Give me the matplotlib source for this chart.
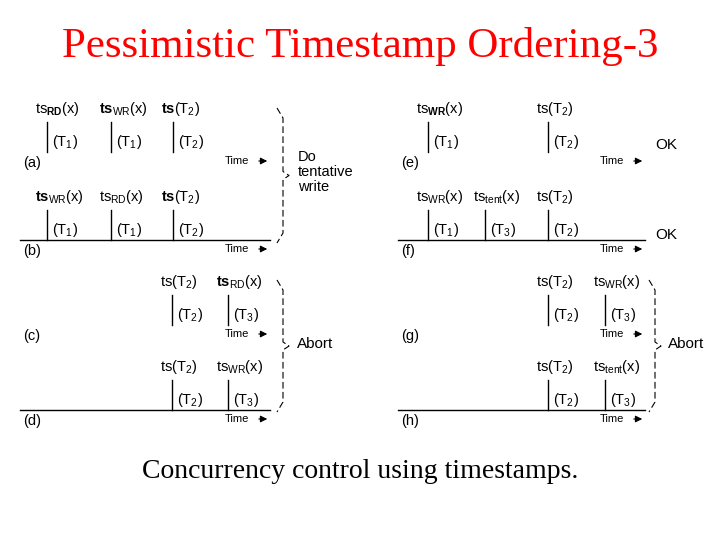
import matplotlib.pyplot as plt

# text content of the diagram
title = 'Pessimistic Timestamp Ordering-3'
caption = 'Concurrency control using timestamps.'

panel_names = ['(a)', '(b)', '(c)', '(d)', '(e)', '(f)', '(g)', '(h)']
top_labels = [
    [r'ts$_{\mathbf{RD}}$(x)', r'$\mathbf{ts}_{\mathrm{WR}}$(x)', r'$\mathbf{ts}$(T$_2$)'],
    [r'$\mathbf{ts}_{\mathrm{WR}}$(x)', r'ts$_{\mathrm{RD}}$(x)', r'$\mathbf{ts}$(T$_2$)'],
    [r'ts(T$_2$)', r'$\mathbf{ts}_{\mathrm{RD}}$(x)'],
    [r'ts(T$_2$)', r'ts$_{\mathrm{WR}}$(x)'],
    [r'ts$_{\mathbf{WR}}$(x)', r'ts(T$_2$)'],
    [r'ts$_{\mathrm{WR}}$(x)', r'ts$_{\mathrm{tent}}$(x)', r'ts(T$_2$)'],
    [r'ts(T$_2$)', r'ts$_{\mathrm{WR}}$(x)'],
    [r'ts(T$_2$)', r'ts$_{\mathrm{tent}}$(x)'],
]
owner_labels = [
    ['(T$_1$)', '(T$_1$)', '(T$_2$)'],
    ['(T$_1$)', '(T$_1$)', '(T$_2$)'],
    ['(T$_2$)', '(T$_3$)'],
    ['(T$_2$)', '(T$_3$)'],
    ['(T$_1$)', '(T$_2$)'],
    ['(T$_1$)', '(T$_3$)', '(T$_2$)'],
    ['(T$_2$)', '(T$_3$)'],
    ['(T$_2$)', '(T$_3$)'],
]
outcomes = ['Do\ntentative\nwrite', 'OK\n\n\n\n\nOK', 'Abort', 'Abort']

# layout (pixel coordinates)
tick_x = [[47, 111, 173], [47, 111, 173], [172, 228], [172, 228],
          [428, 548], [428, 485, 548], [548, 605], [548, 605]]
base_y = [152, 240, 325, 410, 152, 240, 325, 410]
draw_base = [False, True, False, True, False, True, False, True]
x_left = [20, 20, 20, 20, 398, 398, 398, 398]
x_right = [270, 270, 270, 270, 645, 645, 645, 645]

plt.rcParams['font.family'] = ['Liberation Sans', 'DejaVu Sans']
plt.rcParams['mathtext.fontset'] = 'custom'
plt.rcParams['mathtext.rm'] = 'Liberation Sans'
plt.rcParams['mathtext.bf'] = 'Liberation Sans:bold'
plt.rcParams['mathtext.it'] = 'Liberation Sans:italic'

fig = plt.figure(figsize=(7.2, 5.4), dpi=100)
ax = fig.add_axes([0, 0, 1, 1])
ax.set_xlim(0, 720)
ax.set_ylim(540, 0)
ax.axis('off')

ax.text(360, 46, title, color='#ff0000', fontsize=31, ha='center', va='center',
        family='Liberation Serif')
ax.text(360, 472, caption, color='black', fontsize=20, ha='center', va='center',
        family='Liberation Serif')

for i in range(8):
    b = base_y[i]
    for x, top, own in zip(tick_x[i], top_labels[i], owner_labels[i]):
        ax.plot([x, x], [b - 30, b], color='black', lw=1)
        ax.text(x - 12, b - 43, top, fontsize=10.5, va='center', ha='left')
        ax.text(x + 5, b - 10, own, fontsize=10.5, va='center', ha='left')
    if draw_base[i]:
        ax.plot([x_left[i], x_right[i]], [b, b], color='black', lw=1)
    ax.text(x_left[i] + 3, b + 11, panel_names[i], fontsize=10.5, va='center')
    ax.text(x_right[i] - 45, b + 9, 'Time', fontsize=8, va='center')
    ax.annotate('', xy=(x_right[i], b + 9), xytext=(x_right[i] - 14, b + 9),
                arrowprops=dict(arrowstyle='-|>', color='black', lw=0.8))


def brace(x, y0, y1):
    ym = (y0 + y1) / 2
    ax.plot([x - 6, x, x, x + 6, x, x, x - 6],
            [y0, y0 + 10, ym - 4, ym, ym + 4, y1 - 10, y1],
            color='black', lw=0.8, ls=(0, (6, 3)))


brace(283, 108, 243)
brace(283, 280, 412)
brace(655, 280, 412)
ax.text(298, 172, outcomes[0], fontsize=10.5, va='center', linespacing=1.1)
ax.text(655, 190, outcomes[1], fontsize=11, va='center', linespacing=1.35)
ax.text(297, 344, outcomes[2], fontsize=11, va='center')
ax.text(668, 344, outcomes[3], fontsize=11, va='center')

fig.savefig('out.png', dpi=100)
